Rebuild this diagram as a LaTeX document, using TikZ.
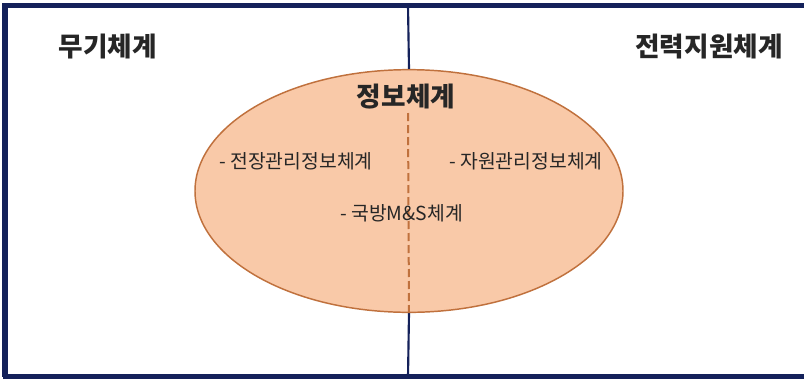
\documentclass[tikz,border=0pt]{standalone}
\usepackage{fontspec}
\setmainfont{Noto Sans CJK KR}
\usetikzlibrary{shapes.geometric}
\definecolor{navy}{HTML}{14215A}
\definecolor{peach}{HTML}{F9C9A8}
\definecolor{rust}{HTML}{C0713D}
\begin{document}
\begin{tikzpicture}[x=0.75pt,y=-0.75pt,
  head/.style={font=\fontsize{20}{22}\selectfont\bfseries,inner sep=0pt,text=black!85},
  item/.style={font=\fontsize{14.5}{16}\selectfont,inner sep=0pt,text=black!85},
  infoset/.style={ellipse,draw=rust,line width=1.1pt,fill=peach,minimum width=321pt,minimum height=182pt,inner sep=0pt}]
\useasboundingbox (0,0) rectangle (804,379);
\fill[white] (0,0) rectangle (804,379);
% ellipse (information systems)
\node[infoset] (ell) at (409,191) {};
% divider
\coordinate (dtop) at (408,5);
\coordinate (dbot) at (408,377);
\coordinate (dstart) at (408,113);
\draw[navy,line width=1.6pt] (dtop) -- (ell.north);
\draw[navy,line width=1.6pt] (ell.south) -- (dbot);
\draw[rust,line width=1.5pt,dash pattern=on 6pt off 3pt] (dstart) -- (ell.south);
% frame
\draw[navy,line width=4pt] (5,376.5) -- (5,5.5) -- (804,5.5);
\draw[navy,line width=4pt] (3,376.5) -- (804,376.5);
% texts
\node[head] (w) at (108,47) {무기체계};
\node[head] (s) at (709,47) {전력지원체계};
\node[head] (i) at (406,97) {정보체계};
\node[item,anchor=west] (b) at (219,161) {- 전장관리정보체계};
\node[item,anchor=west] (r) at (449,161) {- 자원관리정보체계};
\node[item,anchor=west] (m) at (340,213) {- 국방M\&S체계};
\end{tikzpicture}
\end{document}
